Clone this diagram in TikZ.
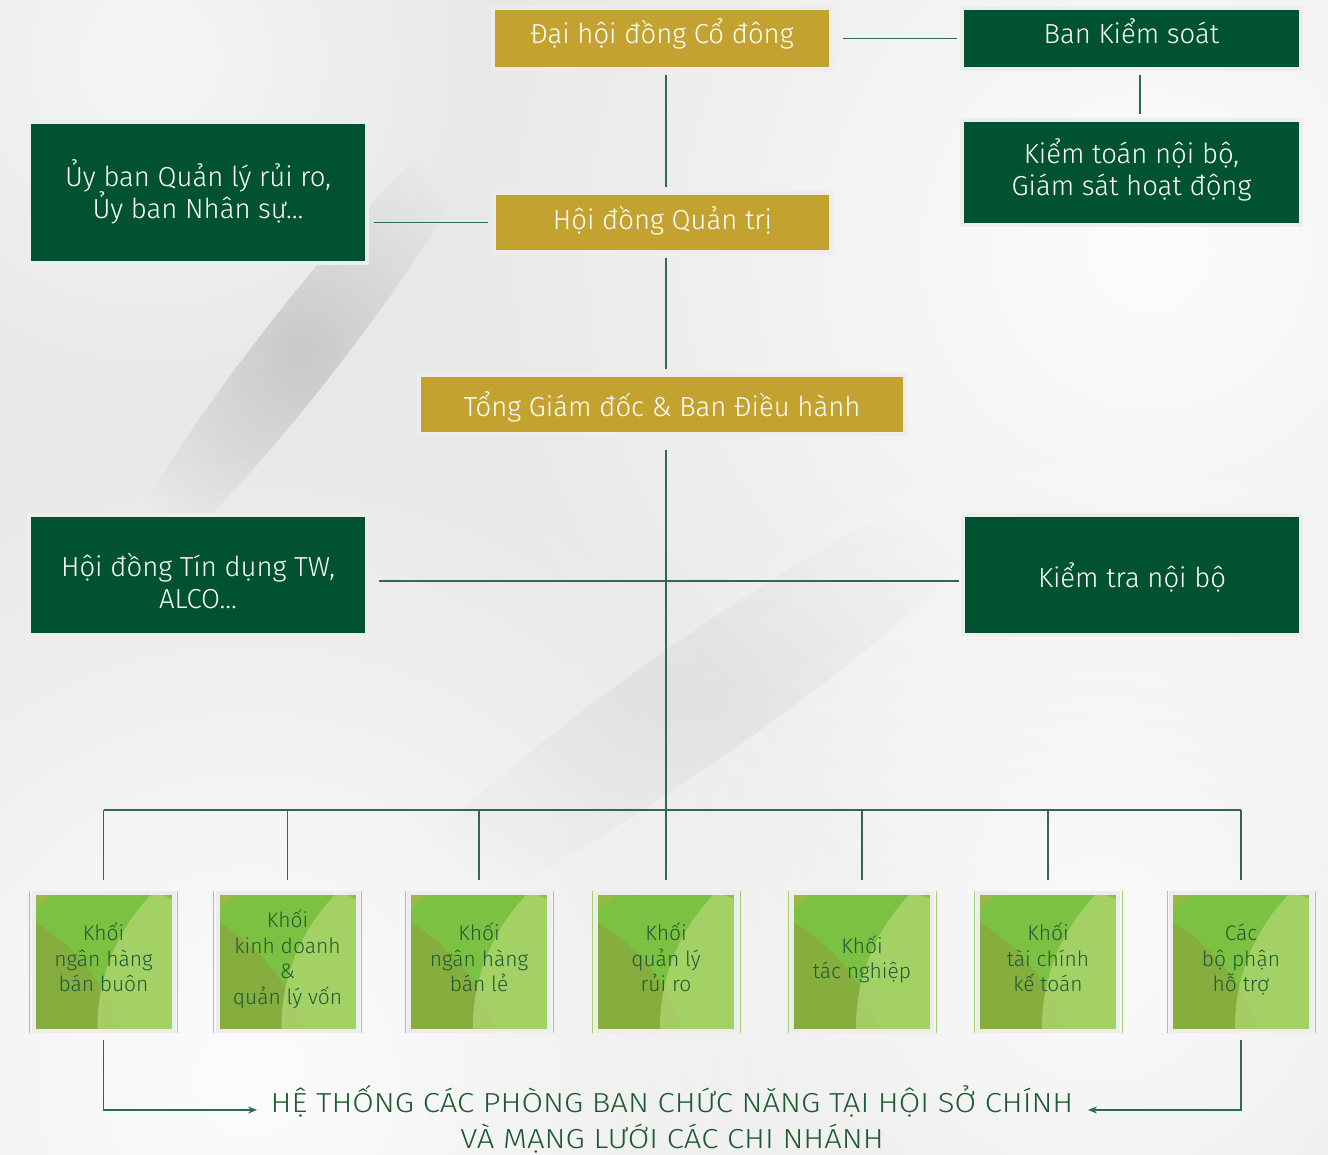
\documentclass[tikz,border=0pt]{standalone}
\usepackage{fontspec}
\setmainfont{Fira Sans}[UprightFont={* Light}]
\usetikzlibrary{arrows.meta,calc,fadings}
\definecolor{gold}{HTML}{C3A22F}
\definecolor{dkgreen}{HTML}{005230}
\definecolor{rim}{HTML}{EDEDED}
\definecolor{lnk}{HTML}{2E6A4F}
\definecolor{gbase}{HTML}{7DC142}
\definecolor{gdark}{HTML}{86AE3E}
\definecolor{gcorner}{HTML}{96B947}
\definecolor{glight}{HTML}{AED56F}
\definecolor{gtext}{HTML}{1E5A32}
\definecolor{bg}{HTML}{E8E8E8}
\definecolor{rimgreen}{HTML}{A6CF72}
\tikzfading[name=softblob, inner color=transparent!0, outer color=transparent!100]
% first line with controlled height above baseline; other lines smashed
\newcommand\firstln[2]{\rule{0pt}{#1pt}\smash{#2}}
\newcommand\nextln[1]{\smash{#1}}
\begin{document}
\begin{tikzpicture}[x=1pt,y=-1pt,
 topbox/.style={draw=rim, line width=4pt, inner sep=0pt, align=center, text=white,
   font=\fontsize{27.5}{32}\selectfont},
 goldbox/.style={topbox, fill=gold},
 greenbox/.style={topbox, fill=dkgreen},
 link/.style={draw=lnk, line width=1.2pt},
 unit/.style={draw=rim, line width=4pt, minimum width=140pt, minimum height=138pt,
   inner sep=0pt, fill=gbase, align=center, text=gtext, font=\fontsize{21}{25.7}\selectfont,
   path picture={
     \coordinate (o) at (path picture bounding box.north west);
     \fill[gdark] ($(o)+(-98,197)$) circle [radius=195pt];
     \fill[glight, fill opacity=0.8] ($(o)+(254,134)$) circle [radius=190pt];
     \fill[gcorner] ($(o)+(-38,-58)$) circle [radius=83pt];
     \fill[gcorner] ($(o)+(150,-40)$) circle [radius=47pt];
   }},
 rimline/.style={draw=rimgreen, line width=1pt},
 tip/.style={-{Stealth[length=9pt,width=7pt]}},
]
\useasboundingbox (0,0) rectangle (1328,1155);
% background
\begin{scope}
\clip (0,0) rectangle (1328,1155);
\fill[bg] (0,0) rectangle (1328,1155);
\fill[white, path fading=softblob, fill opacity=0.9] (1150,250) circle [radius=700pt];
\fill[white, path fading=softblob, fill opacity=0.9] (250,1080) circle [radius=650pt];
\fill[white, path fading=softblob, fill opacity=0.8] (1100,950) circle [radius=550pt];
\fill[white, path fading=softblob, fill opacity=0.6] (150,60) circle [radius=350pt];
\fill[gray, path fading=softblob, fill opacity=0.3, rotate around={52:(300,350)}] (300,350) ellipse [x radius=300pt, y radius=40pt];
\fill[gray, path fading=softblob, fill opacity=0.1, rotate around={35:(700,700)}] (700,700) ellipse [x radius=400pt, y radius=60pt];
\end{scope}

% top boxes
\node[goldbox, minimum width=338pt, minimum height=61pt] (A) at (662,38.5)
  {\firstln{11}{Đại hội đồng Cổ đông}};
\node[greenbox, minimum width=339pt, minimum height=61pt] (B) at (1131.5,38.5)
  {\firstln{11}{Ban Kiểm soát}};
\node[greenbox, minimum width=339pt, minimum height=105pt] (C) at (1131.5,172.5)
  {\firstln{14}{Kiểm toán nội bộ,}\\\nextln{Giám sát hoạt động}};
\node[greenbox, minimum width=338pt, minimum height=141pt] (D) at (198,192.5)
  {\firstln{21}{Ủy ban Quản lý rủi ro,}\\\nextln{Ủy ban Nhân sự…}};
\node[goldbox, minimum width=337pt, minimum height=59pt] (E) at (662.5,222.5)
  {\firstln{15}{Hội đồng Quản trị}};
\node[goldbox, minimum width=486pt, minimum height=59pt] (F) at (662,404.5)
  {\firstln{25}{Tổng Giám đốc \& Ban Điều hành}};
\node[greenbox, minimum width=338pt, minimum height=120pt] (G) at (198,575)
  {\firstln{34}{Hội đồng Tín dụng TW,}\\\nextln{ALCO…}};
\node[greenbox, minimum width=338pt, minimum height=120pt] (H) at (1132,575)
  {\firstln{24}{Kiểm tra nội bộ}};

% unit boxes
\node[unit] (u1) at (103.5,962) {\firstln{8}{Khối}\\\nextln{ngân hàng}\\\nextln{bán buôn}};
\node[unit] (u2) at (287.5,962) {\firstln{8}{Khối}\\\nextln{kinh doanh}\\\nextln{\&}\\\nextln{quản lý vốn}};
\node[unit] (u3) at (479,962) {\firstln{8}{Khối}\\\nextln{ngân hàng}\\\nextln{bán lẻ}};
\node[unit] (u4) at (666,962) {\firstln{8}{Khối}\\\nextln{quản lý}\\\nextln{rủi ro}};
\node[unit] (u5) at (862,962) {\firstln{8}{Khối}\\\nextln{tác nghiệp}};
\node[unit] (u6) at (1048,962) {\firstln{8}{Khối}\\\nextln{tài chính}\\\nextln{kế toán}};
\node[unit] (u7) at (1241,962) {\firstln{8}{Các}\\\nextln{bộ phận}\\\nextln{hỗ trợ}};
\foreach \n in {u1,u2,u3,u4,u5,u6,u7}{
  \draw[rimline] ([xshift=-2pt]\n.north west) -- ([xshift=-2pt]\n.south west);
  \draw[rimline] ([xshift=2pt]\n.north east) -- ([xshift=2pt]\n.south east);
}

% bottom caption
\node[text=gtext, font=\fontsize{27.5}{36}\selectfont, align=center, inner sep=0pt,
      xscale=1.132, transform shape] (sys) at (672,1130)
  {\firstln{0}{HỆ THỐNG CÁC PHÒNG BAN CHỨC NĂNG TẠI HỘI SỞ CHÍNH}\\\nextln{VÀ MẠNG LƯỚI CÁC CHI NHÁNH}};

% connectors
\coordinate (t) at (666,0);
\coordinate (bus) at (0,810);
\coordinate (arr) at (0,1110);
\coordinate (endL) at (257,1110);
\coordinate (endR) at (1088,1110);
\coordinate (bk) at (1140,0);
\draw[link, shorten <=4pt, shorten >=4pt] (A.south -| t) -- (E.north -| t);
\draw[link, shorten <=10pt, shorten >=3pt] (A.east) -- (B.west);
\draw[link, shorten <=4pt, shorten >=4pt] (B.south -| bk) -- (C.north -| bk);
\draw[link, shorten <=5pt, shorten >=4pt] (D.east |- E) -- (E.west);
\draw[link, shorten <=4pt, shorten >=4pt] (E.south -| t) -- (F.north -| t);
\draw[link, shorten <=14pt, shorten >=11pt] (F.south -| t) -- (u4.north);
\draw[link, shorten <=10pt, shorten >=2pt] ([yshift=-6pt]G.east) -- ([yshift=-6pt]H.west);
\draw[link] (u1.north |- bus) -- (u7.north |- bus);
\foreach \u in {u1,u2,u3,u5,u6,u7}{
  \draw[link, shorten >=11pt] (\u.north |- bus) -- (\u.north);
}
\draw[link, tip, shorten <=7pt] (u1.south) -- (u1.south |- arr) -- (endL);
\draw[link, tip, shorten <=7pt] (u7.south) -- (u7.south |- arr) -- (endR);
\end{tikzpicture}
\end{document}
